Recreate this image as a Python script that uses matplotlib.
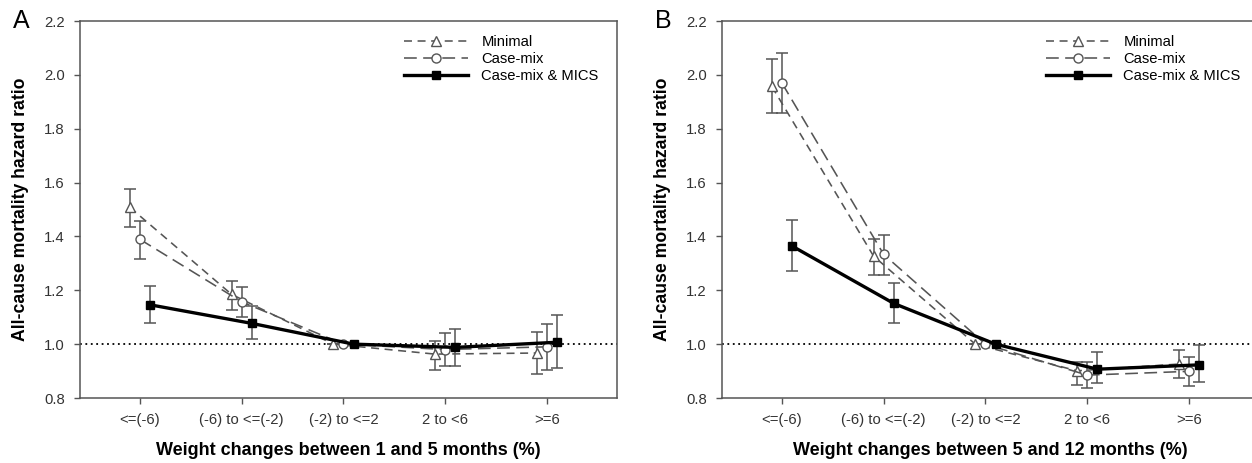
import matplotlib
matplotlib.use("Agg")
import matplotlib.pyplot as plt
import numpy as np

plt.rcParams['font.family'] = ['Liberation Sans', 'DejaVu Sans']

categories = ["<=(-6)", "(-6) to <=(-2)", "(-2) to <=2", "2 to <6", ">=6"]
series_names = ["Minimal", "Case-mix", "Case-mix & MICS"]

# Panel A: weight changes between 1 and 5 months
a_minimal = [1.508, 1.185, 1.0, 0.963, 0.967]
a_minimal_lo = [1.436, 1.127, 1.0, 0.905, 0.890]
a_minimal_hi = [1.577, 1.235, 1.0, 1.012, 1.044]
a_casemix = [1.389, 1.157, 1.0, 0.980, 0.990]
a_casemix_lo = [1.317, 1.100, 1.0, 0.920, 0.905]
a_casemix_hi = [1.457, 1.212, 1.0, 1.040, 1.075]
a_mics = [1.146, 1.077, 1.0, 0.988, 1.007]
a_mics_lo = [1.077, 1.019, 1.0, 0.920, 0.910]
a_mics_hi = [1.216, 1.142, 1.0, 1.058, 1.110]

# Panel B: weight changes between 5 and 12 months
b_minimal = [1.957, 1.327, 1.0, 0.901, 0.926]
b_minimal_lo = [1.858, 1.257, 1.0, 0.848, 0.873]
b_minimal_hi = [2.058, 1.391, 1.0, 0.934, 0.978]
b_casemix = [1.969, 1.333, 1.0, 0.885, 0.899]
b_casemix_lo = [1.858, 1.257, 1.0, 0.836, 0.843]
b_casemix_hi = [2.083, 1.404, 1.0, 0.935, 0.954]
b_mics = [1.364, 1.151, 1.0, 0.907, 0.923]
b_mics_lo = [1.271, 1.078, 1.0, 0.856, 0.860]
b_mics_hi = [1.460, 1.226, 1.0, 0.971, 0.996]

GRAY = "#555555"
W, H = 1252, 463
fig = plt.figure(figsize=(W / 100, H / 100), dpi=100)


def draw_panel(ax, data, xlabel, letter):
    x = np.arange(len(categories))
    styles = [
        dict(marker="^", ls=(0, (5, 3.5)), color=GRAY, lw=1.15, mfc="white", mec=GRAY, ms=7, off=-0.1, z=3),
        dict(marker="o", ls=(0, (8, 4)), color=GRAY, lw=1.15, mfc="white", mec=GRAY, ms=6.5, off=0.0, z=4),
        dict(marker="s", ls="-", color="black", lw=2.4, mfc="black", mec="black", ms=6, off=0.1, z=5),
    ]
    ax.axhline(1.0, color="black", ls=(0, (1, 2)), lw=1.3, zorder=1)
    for name, (vals, lo, hi), st in zip(series_names, data, styles):
        vals = np.array(vals)
        yerr = [vals - np.array(lo), np.array(hi) - vals]
        xs = x + st["off"]
        ax.errorbar(xs, vals, yerr=yerr, fmt="none", ecolor=GRAY, elinewidth=1.1,
                    capsize=4.5, capthick=1.1, zorder=st["z"] - 0.5)
        ax.plot(xs, vals, ls=st["ls"], color=st["color"], lw=st["lw"], marker=st["marker"],
                mfc=st["mfc"], mec=st["mec"], ms=st["ms"], mew=1.0, label=name, zorder=st["z"])
    ax.set_xlim(-0.59, 4.69)
    ax.set_ylim(0.8, 2.2)
    ax.set_yticks(np.arange(0.8, 2.21, 0.2))
    ax.set_yticklabels([f"{v:.1f}" for v in np.arange(0.8, 2.21, 0.2)])
    ax.set_xticks(x)
    ax.set_xticklabels(categories)
    ax.tick_params(direction="out", length=4, width=1, color=GRAY, labelcolor="#333333",
                   labelsize=10.7, pad=7)
    for s in ax.spines.values():
        s.set_color(GRAY)
        s.set_linewidth(1.1)
    ax.set_xlabel(xlabel, fontsize=13, fontweight="bold", labelpad=10.5)
    ax.set_ylabel("All-cause mortality hazard ratio", fontsize=12.7, fontweight="bold", labelpad=11)
    ax.legend(loc="upper right", bbox_to_anchor=(0.985, 0.99), frameon=False, fontsize=10.6,
              handlelength=4.4, handletextpad=0.88, labelspacing=0.2, borderaxespad=0.3)
    ax.text(-0.125, 1.0, letter, transform=ax.transAxes, fontsize=18, va="center", ha="left")


ax_a = fig.add_axes([80 / W, 65 / H, 537 / W, 377 / H])
draw_panel(ax_a, [(a_minimal, a_minimal_lo, a_minimal_hi),
                  (a_casemix, a_casemix_lo, a_casemix_hi),
                  (a_mics, a_mics_lo, a_mics_hi)],
           "Weight changes between 1 and 5 months (%)", "A")

ax_b = fig.add_axes([722 / W, 65 / H, 537 / W, 377 / H])
draw_panel(ax_b, [(b_minimal, b_minimal_lo, b_minimal_hi),
                  (b_casemix, b_casemix_lo, b_casemix_hi),
                  (b_mics, b_mics_lo, b_mics_hi)],
           "Weight changes between 5 and 12 months (%)", "B")

fig.savefig("out.png", dpi=100)
